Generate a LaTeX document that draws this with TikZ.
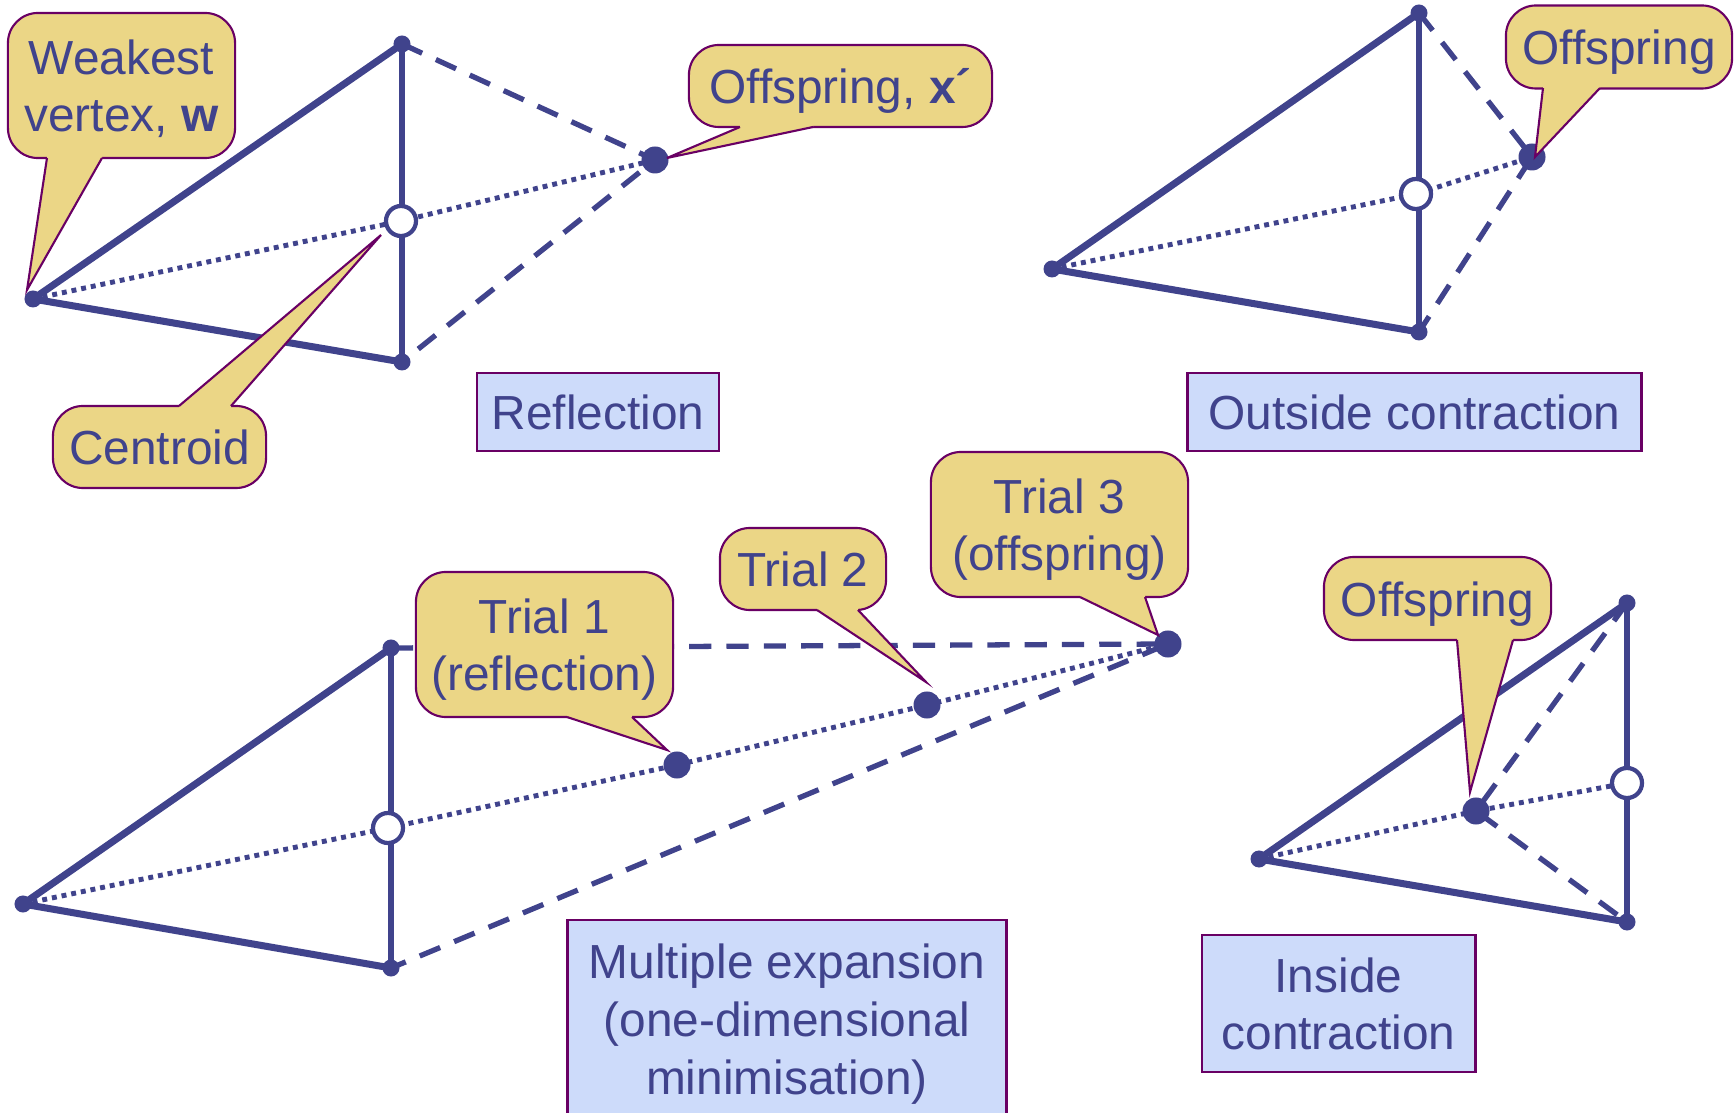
\documentclass[tikz,border=0pt]{standalone}
\usepackage{fontspec}
\setmainfont{Liberation Sans}
\usepackage{xcolor}
\usepackage{tikz}
\usetikzlibrary{positioning,calc}

\definecolor{simplex}{RGB}{64,67,140}
\definecolor{bubblefill}{RGB}{235,214,134}
\definecolor{bubbleline}{RGB}{105,0,100}
\definecolor{tagfill}{RGB}{205,219,250}

% line box of the font, so that lines sit as in a slide
\newcommand{\linestrut}{\rule[-0.212em]{0pt}{1.162em}}
% tail of a speech bubble: box, base point, base point, tip
\newcommand{\bubbletail}[4]{%
  \fill[bubblefill] (#2) -- (#4) -- (#3) -- ($(#3)!0.05cm!(#3 |- #1.center)$) -- ($(#2)!0.05cm!(#2 |- #1.center)$) -- cycle;
  \draw[bubbleline, line width=0.6pt, line join=miter] (#2) -- (#4) -- (#3);
}

\begin{document}
\begin{tikzpicture}[x=0.01cm, y=-0.01cm,
    font=\fontsize{13.6}{16.4}\selectfont, text=simplex,
    edge/.style={draw=simplex, line width=2pt, line join=round},
    rib/.style={draw=simplex, line width=1.7pt},
    move/.style={draw=simplex, line width=1.5pt, dash pattern=on 6.3pt off 4.3pt},
    probe/.style={draw=simplex, line width=1.4pt, dash pattern=on 1.4pt off 1.4pt},
    vtx/.style={circle, fill=simplex, inner sep=0pt, minimum size=0.17cm},
    trialpt/.style={circle, fill=simplex, inner sep=0pt, minimum size=0.27cm},
    centroid/.style={circle, draw=simplex, fill=white, line width=1.2pt, inner sep=0pt, minimum size=0.3cm},
    bubble/.style={draw=bubbleline, fill=bubblefill, line width=0.6pt, rounded corners=0.3cm, align=center, inner sep=0pt,
      execute at begin node=\linestrut, execute at end node=\linestrut},
    tag/.style={draw=bubbleline, fill=tagfill, line width=0.8pt, align=center, inner sep=0pt,
      execute at begin node=\linestrut, execute at end node=\linestrut}]
  \useasboundingbox (0,0) rectangle (1736,1113);

  % reflection
  \coordinate (T1) at (402,44);
  \coordinate (W1) at (33,299);
  \coordinate (B1) at (402,362);
  \coordinate (C1) at (401,221);
  \coordinate (X1) at (655,160);
  \draw[edge] (T1) -- (W1) -- (B1);
  \draw[rib] (T1) -- (B1);
  \draw[move] (T1) -- (X1) -- (B1);
  \draw[probe] (W1) -- (C1) -- (X1);
  \foreach \p in {T1,W1,B1} \node[vtx] at (\p) {};
  \node[trialpt] (x1dot) at (X1) {};
  \node[centroid] (c1dot) at (C1) {};

  % outside contraction
  \coordinate (T2) at (1419,13);
  \coordinate (W2) at (1052,269);
  \coordinate (B2) at (1419,332);
  \coordinate (C2) at (1416,194);
  \coordinate (X2) at (1532,157);
  \draw[edge] (T2) -- (W2) -- (B2);
  \draw[rib] (T2) -- (B2);
  \draw[move] (T2) -- (X2) -- (B2);
  \draw[probe] (W2) -- (C2) -- (X2);
  \foreach \p in {T2,W2,B2} \node[vtx] at (\p) {};
  \node[trialpt] (x2dot) at (X2) {};
  \node[centroid] (c2dot) at (C2) {};

  % multiple expansion
  \coordinate (T3) at (391,648);
  \coordinate (W3) at (23,904);
  \coordinate (B3) at (391,968);
  \coordinate (C3) at (388,828);
  \coordinate (P1) at (677,765);
  \coordinate (P2) at (927,705);
  \coordinate (P3) at (1168,644);
  \draw[edge] (T3) -- (W3) -- (B3);
  \draw[rib] (T3) -- (B3);
  \draw[move] (T3) -- (P3) -- (B3);
  \draw[probe] (W3) -- (C3) -- (P1) -- (P2) -- (P3);
  \foreach \p in {T3,W3,B3} \node[vtx] at (\p) {};
  \foreach \p in {P1,P2,P3} \node[trialpt] at (\p) {};
  \node[centroid] (c3dot) at (C3) {};

  % inside contraction
  \coordinate (T4) at (1627,603);
  \coordinate (W4) at (1259,859);
  \coordinate (B4) at (1627,922);
  \coordinate (C4) at (1627,783);
  \coordinate (X4) at (1476,811);
  \draw[edge] (T4) -- (W4) -- (B4);
  \draw[rib] (T4) -- (B4);
  \draw[move] (T4) -- (X4) -- (B4);
  \draw[probe] (W4) -- (X4) -- (C4);
  \foreach \p in {T4,W4,B4} \node[vtx] at (\p) {};
  \node[trialpt] (x4dot) at (X4) {};
  \node[centroid] (c4dot) at (C4) {};

  % bubbles
  \node[bubble, minimum width=2.27cm, minimum height=1.45cm] (weak) at (121.5,85.5) {\linestrut Weakest\\vertex, \textbf{w}};
  \coordinate (weaktip) at (27,290);
  \bubbletail{weak}{47,158}{102,158}{weaktip}

  \node[bubble, minimum width=3.03cm, minimum height=0.82cm] (refoff) at (840.5,86) {Offspring, \textbf{x´}};
  \coordinate (refofftip) at (667,158);
  \bubbletail{refoff}{740,127}{813,127}{refofftip}

  \node[bubble, minimum width=2.13cm, minimum height=0.82cm] (cent) at (159.5,447) {Centroid};
  \coordinate (centtip) at (381,235);
  \bubbletail{cent}{179,406}{231,406}{centtip}

  \node[bubble, minimum width=2.26cm, minimum height=0.83cm] (outoff) at (1619,47) {Offspring};
  \coordinate (outofftip) at (1535,157);
  \bubbletail{outoff}{1543,88}{1600,88}{outofftip}

  \node[bubble, minimum width=2.57cm, minimum height=1.45cm] (trial1) at (544.5,644.5) {\linestrut Trial 1\\(reflection)};
  \coordinate (trial1tip) at (667,750);
  \bubbletail{trial1}{567,717}{632,717}{trial1tip}

  \node[bubble, minimum width=1.66cm, minimum height=0.82cm] (trial2) at (803,569) {Trial 2};
  \coordinate (trial2tip) at (926,682);
  \bubbletail{trial2}{817,610}{858,610}{trial2tip}

  \node[bubble, minimum width=2.57cm, minimum height=1.45cm] (trial3) at (1059.5,524.5) {\linestrut Trial 3\\(offspring)};
  \coordinate (trial3tip) at (1158,635);
  \bubbletail{trial3}{1080,597}{1145,597}{trial3tip}

  \node[bubble, minimum width=2.27cm, minimum height=0.83cm] (inoff) at (1437.5,598.5) {Offspring};
  \coordinate (inofftip) at (1470,792);
  \bubbletail{inoff}{1457,640}{1513,640}{inofftip}

  % captions
  \node[tag, minimum width=2.42cm, minimum height=0.78cm] (reflect) at (598,412) {Reflection};
  \node[tag, minimum width=4.53cm, minimum height=0.78cm] (outside) at (1414.5,412) {Outside contraction};
  \node[tag, minimum width=4.38cm, minimum height=1.98cm] (multi) at (787,1019) {\linestrut Multiple expansion\\(one-dimensional\\minimisation)};
  \node[tag, minimum width=2.73cm, minimum height=1.37cm] (inside) at (1338.5,1003.5) {\linestrut Inside\\contraction};
\end{tikzpicture}
\end{document}
